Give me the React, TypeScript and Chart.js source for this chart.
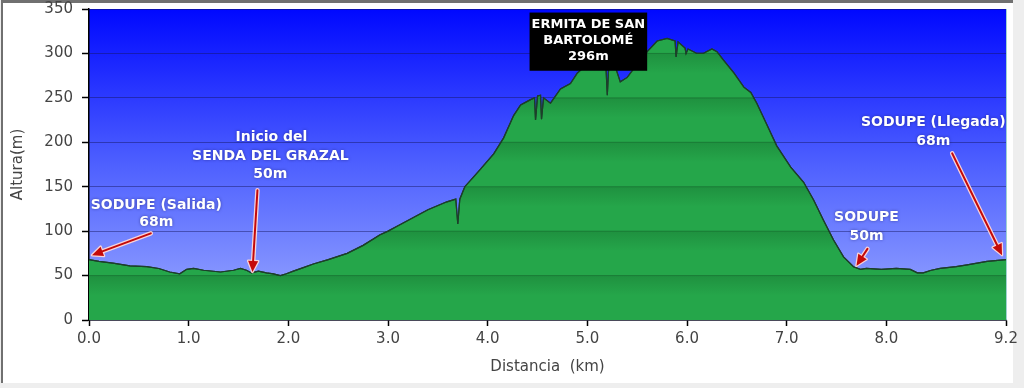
import React, { useEffect, useRef } from "react";
import { Chart, registerables } from "chart.js";

Chart.register(...registerables);

// ---- data ----
const distanceKm = [
  0.0, 0.1, 0.24, 0.41, 0.58, 0.7, 0.81, 0.91, 0.98, 1.05, 1.15, 1.32, 1.45, 1.52, 1.58, 1.63, 1.7, 1.78, 1.85, 1.92,
  1.98, 2.05, 2.15, 2.25, 2.4, 2.59, 2.75, 2.92, 3.0, 3.1, 3.25, 3.4, 3.59, 3.68, 3.7, 3.72, 3.77, 3.85, 3.93, 4.06,
  4.16, 4.26, 4.33, 4.43, 4.47, 4.48, 4.5, 4.53, 4.54, 4.56, 4.63, 4.73, 4.83, 4.9, 5.0, 5.1, 5.18, 5.2, 5.22, 5.28,
  5.33, 5.4, 5.46, 5.53, 5.6, 5.7, 5.8, 5.88, 5.89, 5.91, 5.98, 5.99, 6.01, 6.1, 6.16, 6.25, 6.3, 6.37, 6.47, 6.57,
  6.64, 6.7, 6.8, 6.9, 7.04, 7.17, 7.27, 7.37, 7.47, 7.57, 7.67, 7.74, 7.8, 7.95, 8.1, 8.24, 8.31, 8.37, 8.45, 8.54,
  8.7, 8.81, 9.01, 9.2,
];
const elevationM = [
  68, 66, 64, 61, 60, 58, 54, 52, 57, 58, 56, 54, 56, 58, 56, 53, 55, 53, 52, 50,
  52, 55, 59, 63, 68, 75, 84, 96, 100, 106, 115, 124, 133, 136, 108, 136, 150, 160, 170, 187,
  205, 230, 242, 248, 250, 225, 252, 253, 226, 250, 244, 260, 266, 278, 288, 298, 300, 253, 298, 285,
  268, 273, 282, 292, 302, 314, 317, 314, 296, 313, 306, 300, 305, 300, 300, 305, 302, 292, 278, 262,
  256, 244, 220, 196, 172, 155, 135, 112, 90, 71, 60, 57, 58, 57, 58, 57, 53, 53, 56, 58,
  60, 62, 66, 68,
];
const xTickValues = [0, 1, 2, 3, 4, 5, 6, 7, 8, 9.2];
const yMax = 350;
const yStep = 50;

// callout labels (positions in data units: km, m)
const calloutTexts = [
  { text: "SODUPE (Salida)", km: 0.675, m: 129 },
  { text: "68m", km: 0.675, m: 110 },
  { text: "Inicio del", km: 1.83, m: 206 },
  { text: "SENDA DEL GRAZAL", km: 1.82, m: 184.5 },
  { text: "50m", km: 1.82, m: 164 },
  { text: "SODUPE", km: 7.8, m: 115 },
  { text: "50m", km: 7.8, m: 94 },
  { text: "SODUPE (Llegada)", km: 8.47, m: 222.5 },
  { text: "68m", km: 8.47, m: 201.5 },
];
const calloutArrows = [
  { fromKm: 0.62, fromM: 97.5, toKm: 0.03, toM: 73 },
  { fromKm: 1.69, fromM: 146, toKm: 1.64, toM: 54 },
  { fromKm: 7.81, fromM: 80, toKm: 7.7, toM: 61 },
  { fromKm: 8.66, fromM: 187.5, toKm: 9.16, toM: 73 },
];
const summitLines = ["ERMITA DE SAN", "BARTOLOMÉ", "296m"];
const summitLineM = [332, 314.5, 296];
const summitBoxKm = [4.42, 5.6];
const summitBoxM = [280.5, 346];

function drawArrow(ctx: CanvasRenderingContext2D, x1: number, y1: number, x2: number, y2: number) {
  const ang = Math.atan2(y2 - y1, x2 - x1);
  const headLen = 11;
  const headW = 5;
  const bx = x2 - headLen * Math.cos(ang);
  const by = y2 - headLen * Math.sin(ang);
  const px = -Math.sin(ang);
  const py = Math.cos(ang);
  const head = () => {
    ctx.beginPath();
    ctx.moveTo(x2, y2);
    ctx.lineTo(bx + px * headW, by + py * headW);
    ctx.lineTo(bx - px * headW, by - py * headW);
    ctx.closePath();
  };
  ctx.lineCap = "round";
  ctx.lineJoin = "round";
  ctx.strokeStyle = "rgba(255,215,215,0.95)";
  ctx.lineWidth = 4.5;
  ctx.beginPath();
  ctx.moveTo(x1, y1);
  ctx.lineTo(bx, by);
  ctx.stroke();
  head();
  ctx.lineWidth = 2.5;
  ctx.stroke();
  ctx.strokeStyle = "#c40a0a";
  ctx.lineWidth = 2;
  ctx.beginPath();
  ctx.moveTo(x1, y1);
  ctx.lineTo(bx, by);
  ctx.stroke();
  head();
  ctx.fillStyle = "#c40a0a";
  ctx.fill();
}

const profilePlugin = {
  id: "profileDecor",
  beforeDraw(chart: any) {
    const { ctx, chartArea } = chart;
    const { left, top, right, bottom } = chartArea;
    const g = ctx.createLinearGradient(0, top, 0, bottom);
    g.addColorStop(0, "rgb(0,8,255)");
    g.addColorStop(0.5, "rgb(78,96,255)");
    g.addColorStop(1, "rgb(155,170,255)");
    ctx.save();
    ctx.fillStyle = g;
    ctx.fillRect(left, top, right - left, bottom - top);
    ctx.restore();
  },
  afterDatasetsDraw(chart: any) {
    const { ctx, chartArea, scales } = chart;
    const meta = chart.getDatasetMeta(0);
    const pts = meta.data;
    if (!pts.length) return;
    const yS = scales.y;
    ctx.save();
    ctx.beginPath();
    pts.forEach((p: any, i: number) => (i ? ctx.lineTo(p.x, p.y) : ctx.moveTo(p.x, p.y)));
    ctx.lineTo(pts[pts.length - 1].x, chartArea.bottom);
    ctx.lineTo(pts[0].x, chartArea.bottom);
    ctx.closePath();
    ctx.clip();
    for (let v = yStep; v < yMax; v += yStep) {
      const y0 = yS.getPixelForValue(v);
      const gr = ctx.createLinearGradient(0, y0, 0, y0 + 20);
      gr.addColorStop(0, "rgba(0,40,10,0.17)");
      gr.addColorStop(1, "rgba(0,40,10,0)");
      ctx.fillStyle = gr;
      ctx.fillRect(chartArea.left, y0, chartArea.right - chartArea.left, 20);
      ctx.fillStyle = "rgba(0,30,10,0.25)";
      ctx.fillRect(chartArea.left, y0 - 0.5, chartArea.right - chartArea.left, 1);
    }
    ctx.restore();
    ctx.save();
    ctx.beginPath();
    pts.forEach((p: any, i: number) => (i ? ctx.lineTo(p.x, p.y) : ctx.moveTo(p.x, p.y)));
    ctx.strokeStyle = "#1d3f2a";
    ctx.lineWidth = 1.2;
    ctx.stroke();
    ctx.restore();
  },
  afterDraw(chart: any) {
    const { ctx, chartArea, scales } = chart;
    const xS = scales.x;
    const yS = scales.y;
    ctx.save();
    ctx.fillStyle = "rgba(150,205,205,0.9)";
    ctx.fillRect(chartArea.right, chartArea.top, 1, chartArea.bottom - chartArea.top);

    calloutArrows.forEach((a) => {
      drawArrow(
        ctx,
        xS.getPixelForValue(a.fromKm),
        yS.getPixelForValue(a.fromM),
        xS.getPixelForValue(a.toKm),
        yS.getPixelForValue(a.toM)
      );
    });

    ctx.font = 'bold 14px "DejaVu Sans"';
    ctx.textAlign = "center";
    ctx.textBaseline = "middle";
    calloutTexts.forEach((t) => {
      const x = xS.getPixelForValue(t.km);
      const y = yS.getPixelForValue(t.m);
      ctx.shadowColor = "rgba(20,20,90,0.55)";
      ctx.shadowBlur = 3;
      ctx.fillStyle = "#ffffff";
      ctx.fillText(t.text, x, y);
    });
    ctx.shadowBlur = 0;
    ctx.shadowColor = "transparent";

    const bx0 = xS.getPixelForValue(summitBoxKm[0]);
    const bx1 = xS.getPixelForValue(summitBoxKm[1]);
    const by0 = yS.getPixelForValue(summitBoxM[1]);
    const by1 = yS.getPixelForValue(summitBoxM[0]);
    ctx.fillStyle = "#000000";
    ctx.fillRect(bx0, by0, bx1 - bx0, by1 - by0);
    ctx.font = 'bold 13px "DejaVu Sans"';
    ctx.fillStyle = "#ffffff";
    const cx = (bx0 + bx1) / 2;
    summitLines.forEach((s, i) => {
      ctx.fillText(s, cx, yS.getPixelForValue(summitLineM[i]));
    });
    ctx.restore();
  },
};

export default function App() {
  const canvasRef = useRef<HTMLCanvasElement | null>(null);

  useEffect(() => {
    const canvas = canvasRef.current;
    if (!canvas) return;
    const points = distanceKm.map((x, i) => ({ x, y: elevationM[i] }));
    const chart = new Chart(canvas, {
      type: "line",
      data: {
        datasets: [
          {
            data: points,
            fill: "origin",
            backgroundColor: "#25a64a",
            borderColor: "#1d3f2a",
            borderWidth: 1.2,
            pointRadius: 0,
            tension: 0,
          },
        ],
      },
      options: {
        animation: false,
        responsive: false,
        devicePixelRatio: 1,
        layout: { padding: { top: 9, right: 18, left: 0, bottom: 0 } },
        plugins: { legend: { display: false }, tooltip: { enabled: false } },
        scales: {
          x: {
            type: "linear",
            min: 0,
            max: 9.2,
            afterBuildTicks: (s: any) => {
              s.ticks = xTickValues.map((v) => ({ value: v }));
            },
            afterFit: (s: any) => {
              s.height = 68;
              s.paddingLeft = 0;
              s.paddingRight = 0;
            },
            ticks: {
              autoSkip: false,
              maxRotation: 0,
              padding: 4,
              color: "#444",
              font: { family: "DejaVu Sans", size: 15 },
              callback: (v: any) => Number(v).toFixed(1),
            },
            grid: { drawOnChartArea: false, drawTicks: true, tickLength: 6, tickColor: "#000", tickWidth: 1.5 },
            border: { color: "#000", width: 1.5 },
            title: {
              display: true,
              text: "Distancia  (km)",
              color: "#444",
              font: { family: "DejaVu Sans", size: 15 },
              padding: { top: 0, bottom: 12 },
            },
          },
          y: {
            min: 0,
            max: yMax,
            afterFit: (s: any) => {
              s.width = 89;
              s.paddingTop = 0;
              s.paddingBottom = 0;
            },
            ticks: {
              stepSize: yStep,
              padding: 9,
              color: "#444",
              font: { family: "DejaVu Sans", size: 15 },
            },
            grid: {
              color: "rgba(20,20,90,0.45)",
              lineWidth: 1,
              tickLength: 7,
              tickColor: "#000",
              tickWidth: 1.5,
            },
            border: { color: "#000", width: 1.5 },
            title: {
              display: true,
              text: "Altura(m)",
              color: "#444",
              font: { family: "DejaVu Sans", size: 15 },
              padding: { top: 9, bottom: 0 },
            },
          },
        },
      },
      plugins: [profilePlugin],
    });
    return () => chart.destroy();
  }, []);

  return (
    <div
      style={{
        position: "fixed",
        left: 0,
        top: 0,
        width: 1024,
        height: 388,
        background: "#eeeeee",
        overflow: "hidden",
      }}
    >
      <div
        style={{
          position: "absolute",
          left: 1,
          top: 0,
          width: 1012,
          height: 383,
          background: "#ffffff",
          borderTop: "3px solid #707070",
          borderLeft: "2px solid #707070",
          boxSizing: "border-box",
        }}
      />
      <canvas ref={canvasRef} width={1024} height={388} style={{ position: "absolute", left: 0, top: 0 }} />
    </div>
  );
}
